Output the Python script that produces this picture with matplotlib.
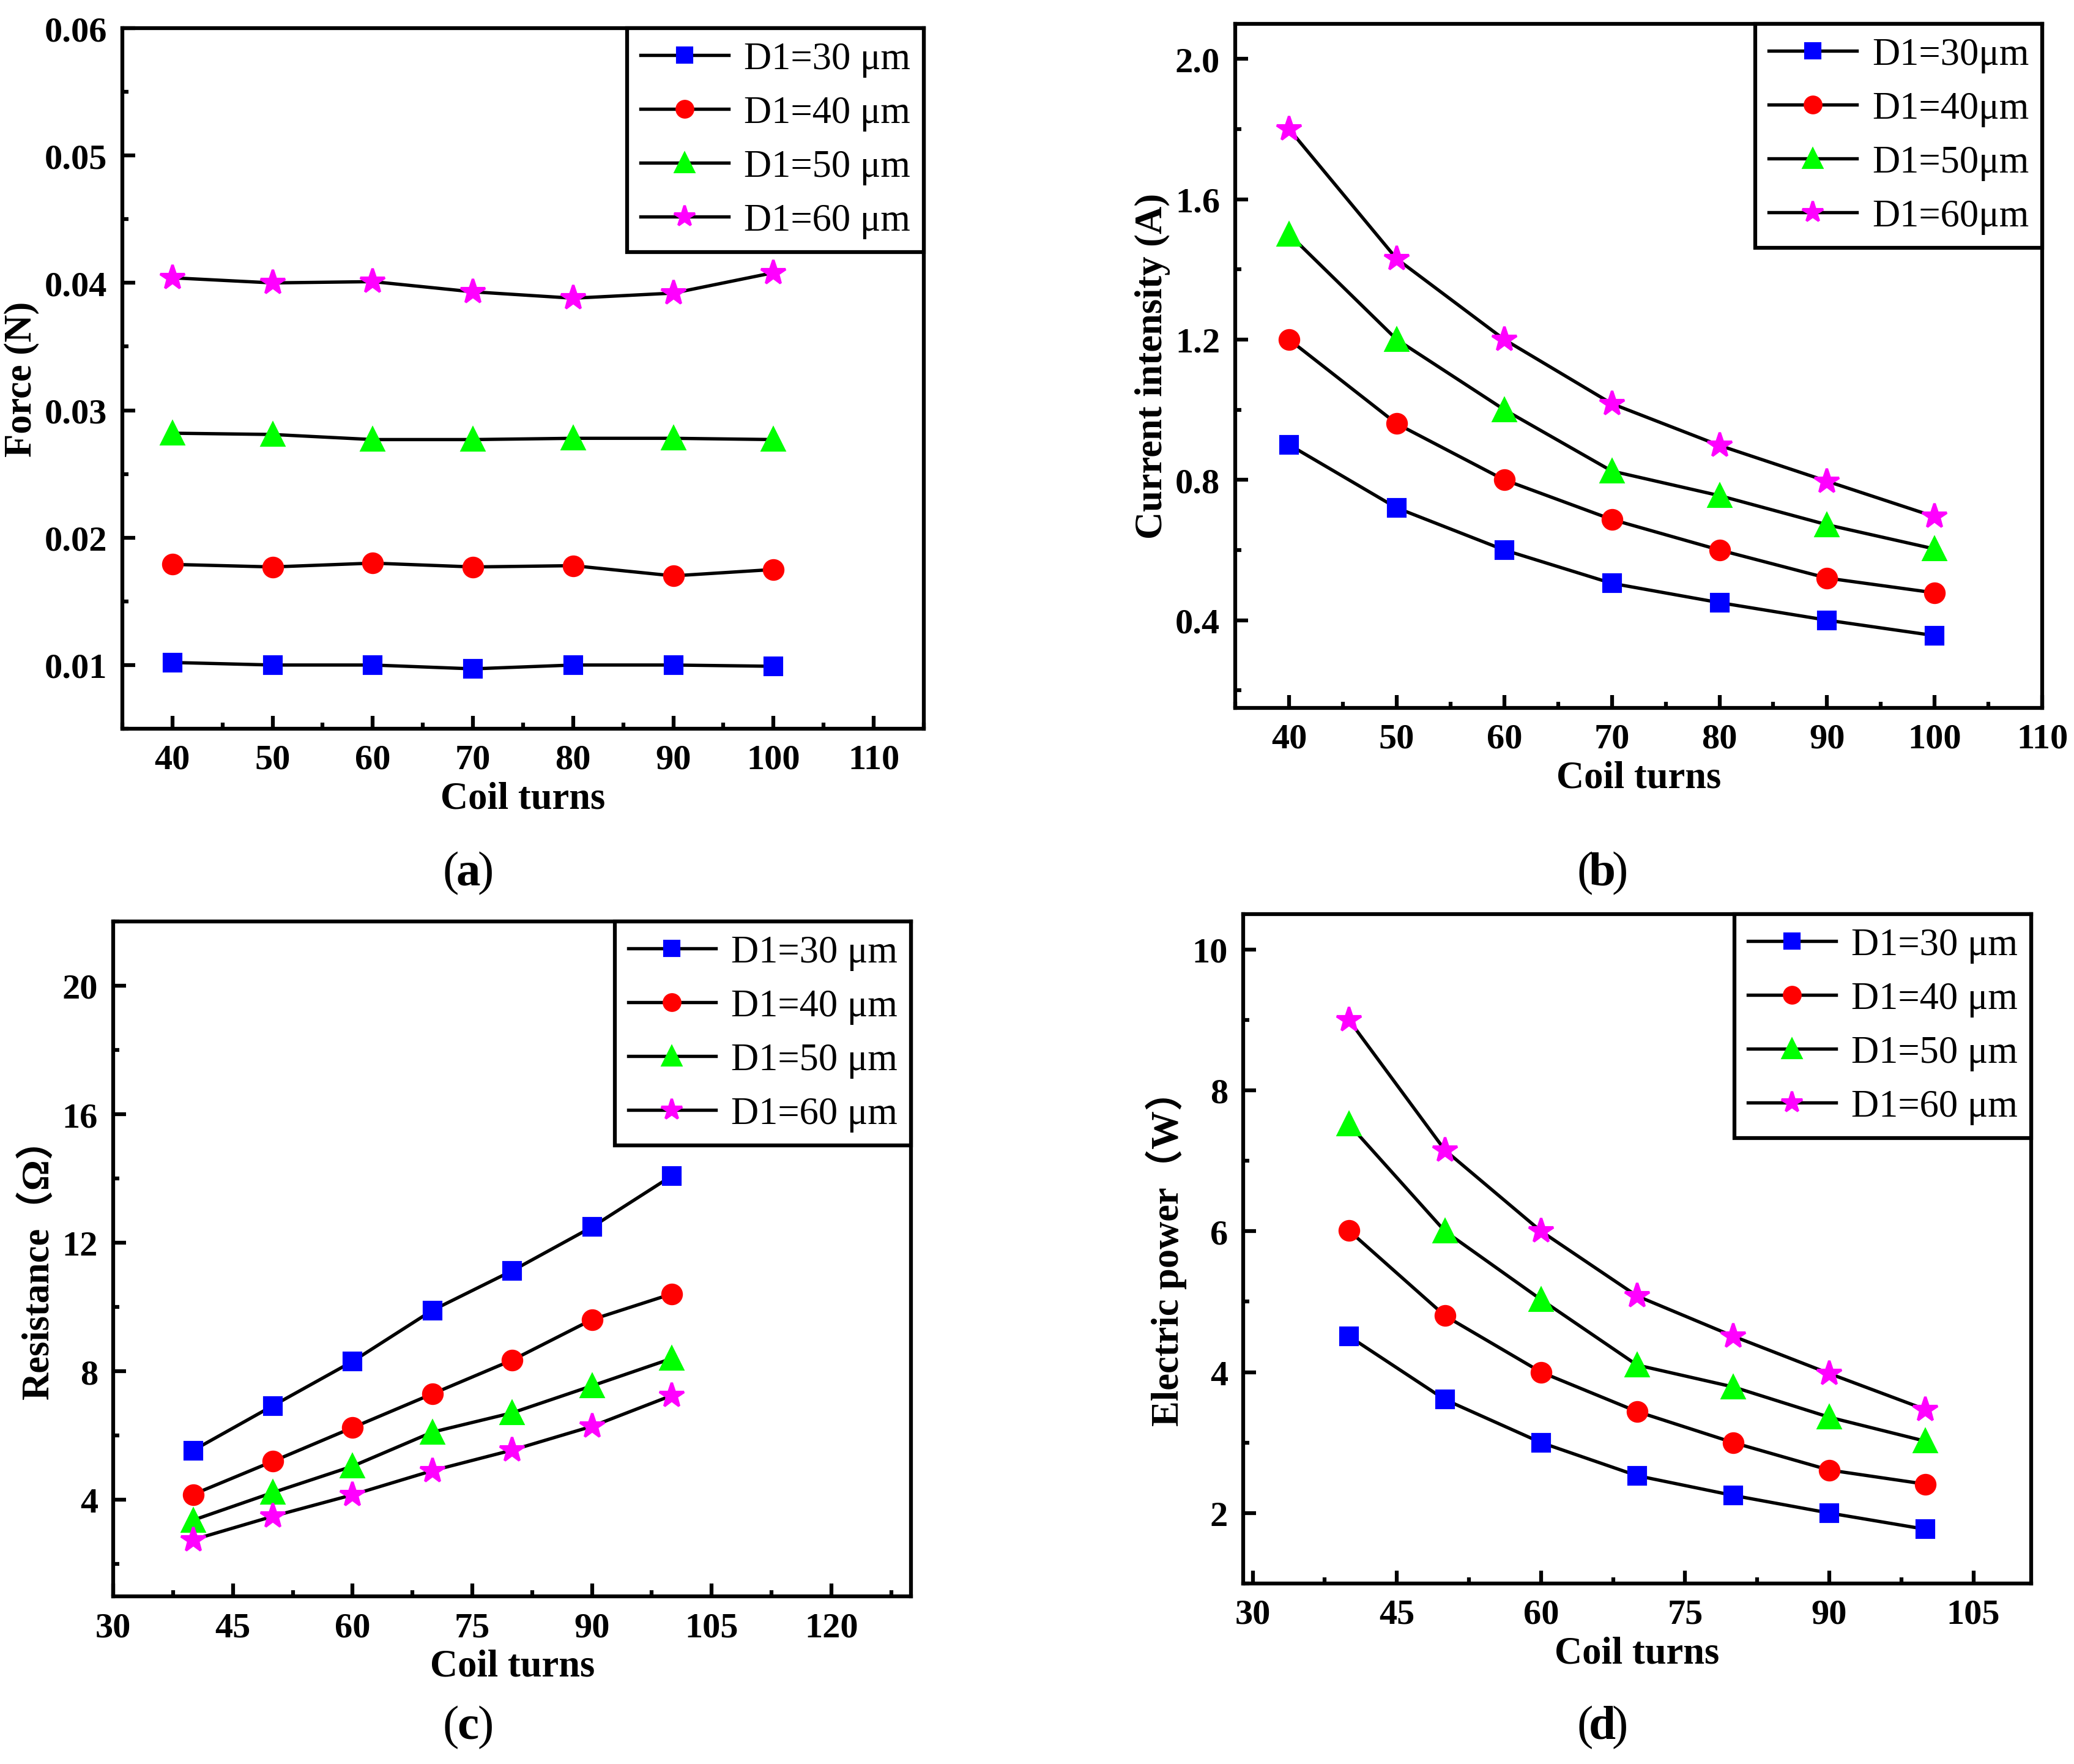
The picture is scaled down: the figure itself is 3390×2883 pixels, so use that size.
import numpy as np
import matplotlib
matplotlib.use('Agg')
import matplotlib.pyplot as plt
from matplotlib.ticker import MultipleLocator

plt.rcParams['font.family'] = ['Liberation Serif', 'Noto Sans CJK SC']

# data
turns = [40, 50, 60, 70, 80, 90, 100]

force30 = [0.0102, 0.0100, 0.0100, 0.0097, 0.0100, 0.0100, 0.0099]
force40 = [0.0179, 0.0177, 0.0180, 0.0177, 0.0178, 0.0170, 0.0175]
force50 = [0.0282, 0.0281, 0.0277, 0.0277, 0.0278, 0.0278, 0.0277]
force60 = [0.0404, 0.0400, 0.0401, 0.0393, 0.0388, 0.0392, 0.0408]

curr30 = [0.90, 0.72, 0.60, 0.505, 0.45, 0.40, 0.356]
curr40 = [1.20, 0.96, 0.80, 0.687, 0.60, 0.52, 0.478]
curr50 = [1.50, 1.20, 1.00, 0.825, 0.755, 0.672, 0.603]
curr60 = [1.80, 1.43, 1.20, 1.017, 0.898, 0.796, 0.695]

res30 = [5.54, 6.93, 8.31, 9.90, 11.13, 12.49, 14.08]
res40 = [4.17, 5.20, 6.25, 7.30, 8.35, 9.61, 10.41]
res50 = [3.37, 4.23, 5.05, 6.11, 6.71, 7.55, 8.40]
res60 = [2.76, 3.49, 4.16, 4.91, 5.55, 6.29, 7.25]

pow30 = [4.51, 3.61, 3.00, 2.53, 2.25, 2.00, 1.77]
pow40 = [6.01, 4.80, 4.00, 3.44, 3.00, 2.61, 2.41]
pow50 = [7.52, 6.00, 5.03, 4.10, 3.79, 3.36, 3.02]
pow60 = [9.00, 7.15, 6.00, 5.08, 4.51, 3.98, 3.47]

labels_sp = ['D1=30 μm', 'D1=40 μm', 'D1=50 μm', 'D1=60 μm']
labels_nosp = ['D1=30μm', 'D1=40μm', 'D1=50μm', 'D1=60μm']

estilos = [('s', '#0000ff', 6.5), ('o', '#ff0000', 7.5),
           ('^', '#00ff00', 8.5), ('*', '#ff00ff', 10)]


def painel(ax, series, labels, xlim, ylim, xmaj, ymaj, ylabel, yfmt):
    for ys, lab, (mk, cor, ms) in zip(series, labels, estilos):
        ax.plot(turns, ys, color='black', lw=1.3, marker=mk, ms=ms,
                mfc=cor, mec=cor, label=lab)
    ax.set_xlim(*xlim)
    ax.set_ylim(*ylim)
    ax.xaxis.set_major_locator(MultipleLocator(xmaj))
    ax.xaxis.set_minor_locator(MultipleLocator(xmaj / 2))
    ax.yaxis.set_major_locator(MultipleLocator(ymaj))
    ax.yaxis.set_minor_locator(MultipleLocator(ymaj / 2))
    ax.yaxis.set_major_formatter(plt.FormatStrFormatter(yfmt))
    ax.tick_params(which='both', direction='in', top=False, right=False,
                   width=1.5, labelsize=14, pad=6)
    ax.tick_params(which='major', length=5)
    ax.tick_params(which='minor', length=2.5)
    for t in ax.get_xticklabels() + ax.get_yticklabels():
        t.set_fontweight('bold')
    for sp in ax.spines.values():
        sp.set_linewidth(1.5)
    ax.set_xlabel('Coil turns', fontsize=15, fontweight='bold', labelpad=2)
    ax.set_ylabel(ylabel, fontsize=15, fontweight='bold', labelpad=2)
    leg = ax.legend(loc='upper right', borderaxespad=0, fancybox=False,
                    edgecolor='black', framealpha=1, fontsize=15,
                    handlelength=2.3, labelspacing=0.48, borderpad=0.35,
                    handletextpad=0.4, markerscale=0.85)
    leg.get_frame().set_linewidth(1.5)


def rotulo(fig, x, y, letra):
    fig.text(x - 0.0085, y, '(', fontsize=19, ha='center', va='center')
    fig.text(x, y, letra, fontsize=19, fontweight='bold', ha='center', va='center')
    fig.text(x + 0.0085, y, ')', fontsize=19, ha='center', va='center')


fig = plt.figure(figsize=(11.3, 9.6133), dpi=300)

axA = fig.add_axes([0.0590, 0.5867, 0.3864, 0.3970])
painel(axA, [force30, force40, force50, force60], labels_sp,
       (35, 115), (0.005, 0.06), 10, 0.01, 'Force (N)', '%.2f')

axB = fig.add_axes([0.5956, 0.5985, 0.3891, 0.3877])
painel(axB, [curr30, curr40, curr50, curr60], labels_nosp,
       (35, 110), (0.15, 2.1), 10, 0.4, 'Current intensity (A)', '%.1f')

axC = fig.add_axes([0.0546, 0.0950, 0.3847, 0.3825])
painel(axC, [res30, res40, res50, res60], labels_sp,
       (30, 130), (1, 22), 15, 4, 'Resistance（Ω）', '%d')

axD = fig.add_axes([0.5994, 0.1023, 0.3799, 0.3793])
painel(axD, [pow30, pow40, pow50, pow60], labels_sp,
       (29, 111), (1, 10.5), 15, 2, 'Electric power（W）', '%d')

rotulo(fig, 0.2257, 0.505, 'a')
rotulo(fig, 0.7726, 0.505, 'b')
rotulo(fig, 0.2257, 0.021, 'c')
rotulo(fig, 0.7726, 0.021, 'd')

fig.savefig('out.png', dpi=300)
